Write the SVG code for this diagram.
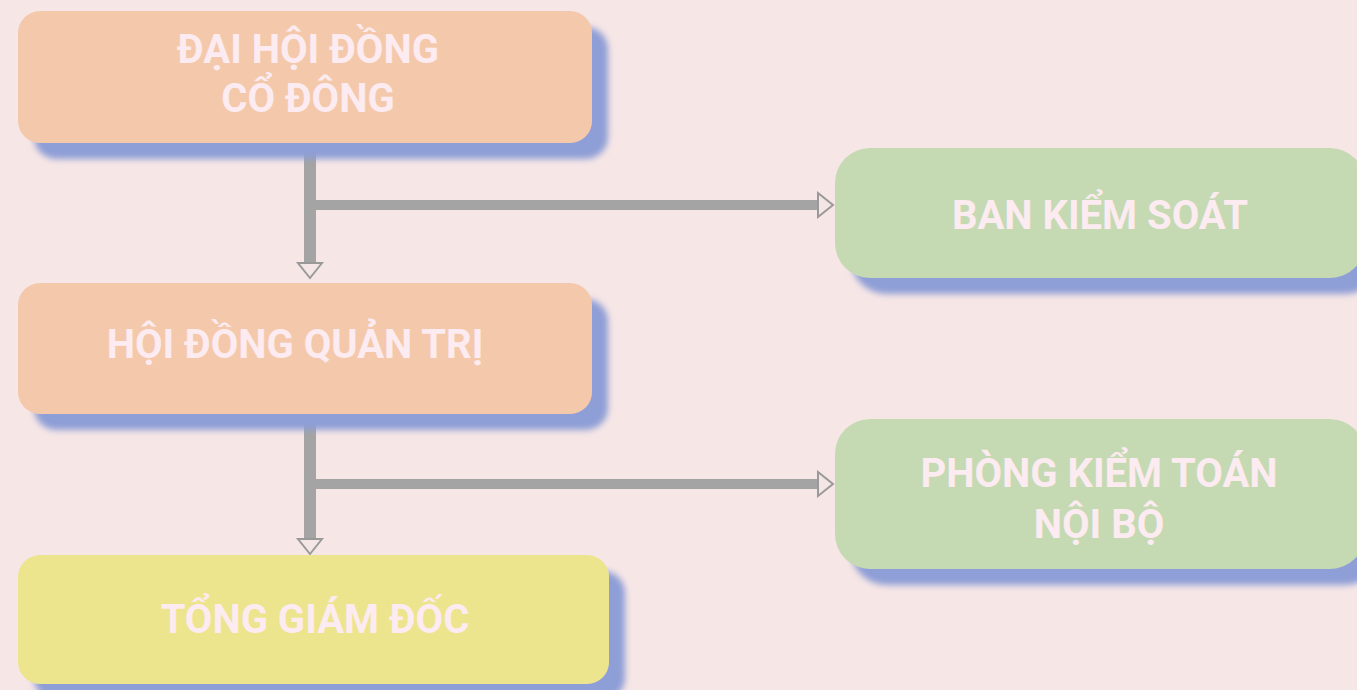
<svg xmlns="http://www.w3.org/2000/svg" width="1357" height="690" viewBox="0 0 1357 690">
<defs>
<style>
.t{font-family:Roboto,"Liberation Sans",sans-serif;font-weight:bold;font-size:40px;fill:#fcebf0;text-anchor:middle}
.c{fill:none;stroke:#a4a4a4}
.peach{fill:#f4c9ab}
.green{fill:#c5dab3}
.yellow{fill:#ede48e}
</style>
<filter id="sh" x="-10%" y="-20%" width="130%" height="150%">
<feGaussianBlur in="SourceAlpha" stdDeviation="3" result="b"/>
<feOffset in="b" dx="16" dy="16" result="o"/>
<feFlood flood-color="#8e9ed6"/>
<feComposite in2="o" operator="in" result="s"/>
<feMerge><feMergeNode in="s"/><feMergeNode in="SourceGraphic"/></feMerge>
</filter>
<marker id="ah" markerUnits="userSpaceOnUse" markerWidth="20" markerHeight="30" viewBox="-2 -15 20 30" refX="0" refY="0" orient="auto">
<path d="M0,-12 L15,0 L0,12 Z" fill="#f5e6e6" stroke="#999" stroke-width="2"/>
</marker>
</defs>
<rect width="1357" height="690" fill="#f6e6e6"/>
<g id="connectors">
<line class="c" x1="310" y1="143" x2="310" y2="263" stroke-width="12" marker-end="url(#ah)"/>
<line class="c" x1="310" y1="205" x2="818" y2="205" stroke-width="10" marker-end="url(#ah)"/>
<line class="c" x1="310" y1="414" x2="310" y2="539" stroke-width="12" marker-end="url(#ah)"/>
<line class="c" x1="310" y1="484" x2="818" y2="484" stroke-width="10" marker-end="url(#ah)"/>
</g>
<g id="dai-hoi-dong-co-dong">
<rect class="peach" x="18" y="11" width="574" height="132" rx="22" filter="url(#sh)"/>
<text class="t" x="308" y="63">ĐẠI HỘI ĐỒNG</text>
<text class="t" x="308" y="112">CỔ ĐÔNG</text>
</g>
<g id="hoi-dong-quan-tri">
<rect class="peach" x="18" y="283" width="574" height="131" rx="22" filter="url(#sh)"/>
<text class="t" x="295" y="358">HỘI ĐỒNG QUẢN TRỊ</text>
</g>
<g id="tong-giam-doc">
<rect class="yellow" x="18" y="555" width="591" height="129" rx="22" filter="url(#sh)"/>
<text class="t" x="315" y="633">TỔNG GIÁM ĐỐC</text>
</g>
<g id="ban-kiem-soat">
<rect class="green" x="835" y="148" width="530" height="130" rx="35" filter="url(#sh)"/>
<text class="t" x="1100" y="229">BAN KIỂM SOÁT</text>
</g>
<g id="phong-kiem-toan-noi-bo">
<rect class="green" x="835" y="419" width="530" height="150" rx="35" filter="url(#sh)"/>
<text class="t" x="1099" y="487">PHÒNG KIỂM TOÁN</text>
<text class="t" x="1099" y="538">NỘI BỘ</text>
</g>
</svg>
